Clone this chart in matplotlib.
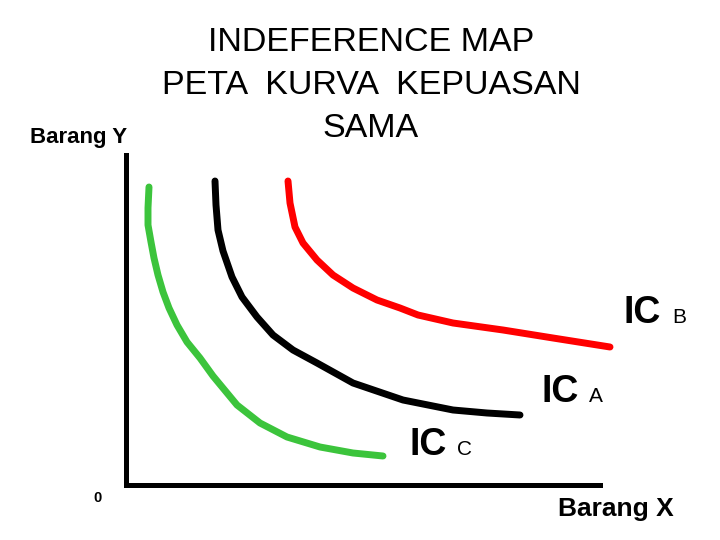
import matplotlib
matplotlib.use('Agg')
import matplotlib.pyplot as plt

plt.rcParams['font.family'] = ['Liberation Sans', 'DejaVu Sans']

# Indifference curves (quantity of X, quantity of Y)
ic_c_x = [23, 22, 22, 25, 28, 32, 37, 43, 51, 61, 74, 87, 111, 134, 161, 194, 227, 257]
ic_c_y = [298, 277, 260, 243, 227, 210, 193, 177, 160, 143, 127, 109, 80, 62, 48, 38, 32, 29]

ic_a_x = [89, 90, 92, 97, 106, 116, 131, 147, 167, 191, 227, 277, 327, 361, 394]
ic_a_y = [304, 280, 255, 234, 208, 188, 168, 150, 135, 122, 102, 85, 75, 72, 70]

ic_b_x = [162, 164, 169, 177, 191, 207, 227, 251, 274, 292, 327, 377, 427, 484]
ic_b_y = [304, 282, 258, 242, 225, 210, 197, 185, 177, 170, 162, 155, 147, 138]

curves = [
    (ic_c_x, ic_c_y, '#3cc43c'),
    (ic_a_x, ic_a_y, 'black'),
    (ic_b_x, ic_b_y, '#ff0000'),
]

title_lines = ['INDEFERENCE MAP', 'PETA  KURVA  KEPUASAN', 'SAMA']

W, H = 720, 540
fig = plt.figure(figsize=(7.2, 5.4), dpi=100, facecolor='white')


def fx(px):
    return px / W


def fy(py):
    return 1 - py / H


ax = fig.add_axes([fx(126), fy(485), (600 - 126) / W, (485 - 155) / H])
ax.set_xlim(0, 474)
ax.set_ylim(0, 330)
for x, y, c in curves:
    ax.plot(x, y, color=c, lw=5, solid_capstyle='round',
            solid_joinstyle='round', clip_on=False)

for s in ['top', 'right']:
    ax.spines[s].set_visible(False)
for s in ['left', 'bottom']:
    ax.spines[s].set_linewidth(3.6)
    ax.spines[s].set_color('black')
ax.set_xticks([])
ax.set_yticks([])

# title
for i, line in enumerate(title_lines):
    fig.text(fx(371), fy(51 + 43 * i), line, fontsize=24.5,
             ha='center', va='baseline')

fig.text(fx(127), fy(143), 'Barang Y', fontsize=16, fontweight='bold',
         ha='right', va='baseline')
fig.text(fx(674), fy(516), 'Barang X', fontsize=19, fontweight='bold',
         ha='right', va='baseline')
fig.text(fx(97), fy(502), '0', fontsize=10.5, fontweight='bold',
         ha='center', va='baseline')

# curve labels
labels = [('IC', 'B', 624, 323), ('IC', 'A', 541, 402), ('IC', 'C', 409, 455)]
for big, small, px, py in labels:
    fig.text(fx(px), fy(py), big, fontsize=27, fontweight='bold',
             ha='left', va='baseline')
    fig.text(fx(px + 48), fy(py), small, fontsize=15,
             ha='left', va='baseline')

fig.savefig('out.png', dpi=100, facecolor='white')
